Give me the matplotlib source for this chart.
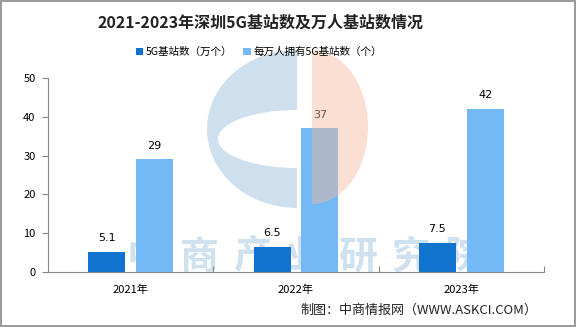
import numpy as np
import matplotlib
matplotlib.use('Agg')
import matplotlib.pyplot as plt
from matplotlib.patches import Polygon, Rectangle

plt.rcParams['font.family'] = ['Noto Sans CJK SC', 'DejaVu Sans']

years = ['2021年', '2022年', '2023年']
stations = [5.1, 6.5, 7.5]          # 5G基站数（万个）
per_10k = [29, 37, 42]              # 每万人拥有5G基站数（个）
series_names = ['5G基站数（万个）', '每万人拥有5G基站数（个）']
title = '2021-2023年深圳5G基站数及万人基站数情况'
source = '制图：中商情报网（WWW.ASKCI.COM）'
mark = '中商产业研究院'

c_dark = '#1073cd'
c_light = '#73b9f5'

W, H = 576, 327
fig = plt.figure(figsize=(W / 100, H / 100), dpi=100)
ax = fig.add_axes([48 / W, 1 - 272 / H, (544 - 48) / W, (272 - 78) / H])

x = np.arange(len(years))
bw = 0.224
off = 0.145
b1 = ax.bar(x - off, stations, bw, color=c_dark, zorder=2)
b2 = ax.bar(x + off, per_10k, bw, color=c_light, zorder=2)

for rect, v in zip(b1, stations):
    ax.annotate(f'{v}', (rect.get_x() + rect.get_width() / 2, v), xytext=(0, 10),
                textcoords='offset points', ha='center', va='center', fontsize=8,
                family='DejaVu Sans')
for rect, v in zip(b2, per_10k):
    ax.annotate(f'{v}', (rect.get_x() + rect.get_width() / 2, v), xytext=(0, 10),
                textcoords='offset points', ha='center', va='center', fontsize=8,
                family='DejaVu Sans')

ax.set_xlim(-0.5, 2.5)
ax.set_ylim(0, 50)
ax.set_yticks(range(0, 51, 10))
ax.tick_params(axis='y', direction='out', length=4, color='#888888', labelsize=8, pad=5)

# category separators as small inward ticks, year labels in the middle
ax.set_xticks([0.5, 1.5, 2.5])
ax.set_xticklabels([])
ax.tick_params(axis='x', which='major', direction='in', length=4, color='#888888')
ax.set_xticks(x, minor=True)
ax.set_xticklabels(years, minor=True, fontsize=8)
ax.tick_params(axis='x', which='minor', length=0, pad=9)

for s in ['top', 'right']:
    ax.spines[s].set_visible(False)
for s in ['left', 'bottom']:
    ax.spines[s].set_color('#888888')

# background watermark, one character at a time for wide spacing
for i, ch in enumerate(mark):
    ax.text((146 + 53 * i) / W, 1 - 257 / H, ch, transform=fig.transFigure, fontsize=28,
            fontweight='bold', color='#cfe0ee', ha='center', va='center', zorder=1)


def px(pts):
    return [(a / W, 1 - b / H) for a, b in pts]


# logo: blue "C" and pink half disc
t = np.linspace(np.pi / 2, 3 * np.pi / 2, 60)
outer = [(297 + 90 * np.cos(a), 129 - 79 * np.sin(a)) for a in t]
inner = [(297 + 79 * np.cos(a), 139 - 29 * np.sin(a)) for a in t[::-1]]
fig.patches.append(Polygon(px(outer + inner), closed=True, transform=fig.transFigure,
                           facecolor='#9ec3dc', alpha=0.5, edgecolor='none', zorder=5))
t2 = np.linspace(-np.pi / 2, np.pi / 2, 60)
pink = [(312 + 56 * np.cos(a), 127 - 77 * np.sin(a)) for a in t2]
fig.patches.append(Polygon(px(pink), closed=True, transform=fig.transFigure,
                           facecolor='#f4b89c', alpha=0.45, edgecolor='none', zorder=5))

fig.text(261 / W, 1 - 23 / H, title, ha='center', va='center', fontsize=11.5,
         fontweight='bold', color='#222222')

leg = fig.legend([b1, b2], series_names, loc='center', bbox_to_anchor=(259 / W, 1 - 52 / H),
                 ncol=2, frameon=False, fontsize=7.6, handlelength=0.7, handleheight=0.7,
                 handletextpad=0.3, columnspacing=1.0)

fig.text(537 / W, 1 - 310 / H, source, ha='right', va='center', fontsize=9.4, color='#222222')

fig.patches.append(Rectangle((0.001, 0.002), 0.997, 0.995, transform=fig.transFigure,
                             fill=False, edgecolor='#888888', linewidth=1.2))

fig.savefig('out.png', dpi=100)
